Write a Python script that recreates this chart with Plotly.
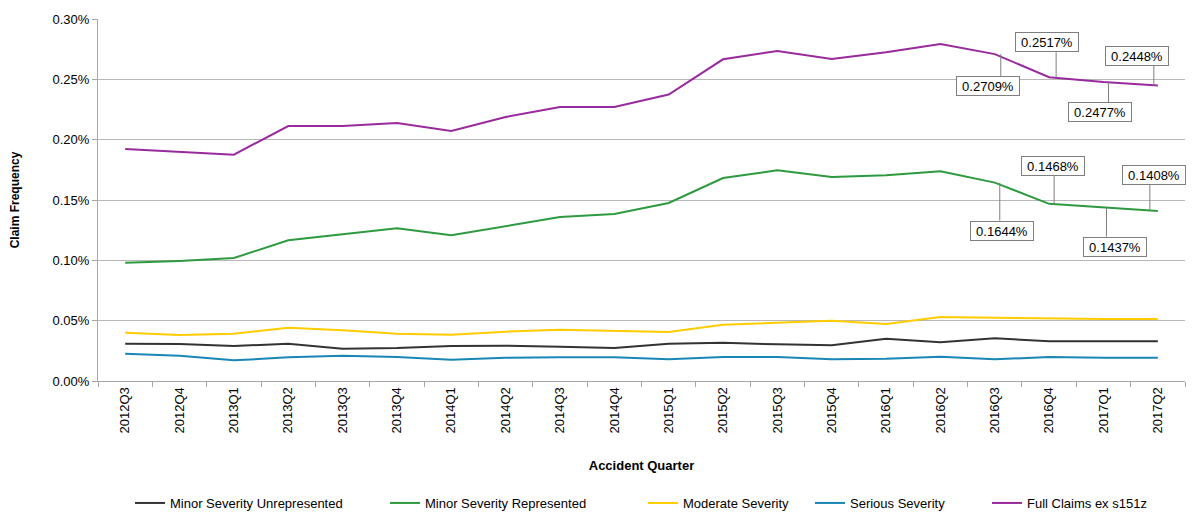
import plotly.graph_objects as go

# Accident quarters (x categories)
quarters = [
    "2012Q3", "2012Q4", "2013Q1", "2013Q2", "2013Q3", "2013Q4",
    "2014Q1", "2014Q2", "2014Q3", "2014Q4", "2015Q1", "2015Q2",
    "2015Q3", "2015Q4", "2016Q1", "2016Q2", "2016Q3", "2016Q4",
    "2017Q1", "2017Q2",
]

# Claim frequency by severity group (as fractions)
minor_unrepresented = [
    0.000309, 0.000307, 0.000290, 0.000309, 0.000268, 0.000273,
    0.000290, 0.000293, 0.000284, 0.000273, 0.000309, 0.000317,
    0.000304, 0.000296, 0.000351, 0.000321, 0.000354, 0.000329,
    0.000329, 0.000329,
]
minor_represented = [
    0.000980, 0.000995, 0.001019, 0.001166, 0.001216, 0.001265,
    0.001207, 0.001285, 0.001359, 0.001384, 0.001475, 0.001682,
    0.001746, 0.001691, 0.001705, 0.001738, 0.001644, 0.001468,
    0.001437, 0.001408,
]
moderate = [
    0.000400, 0.000381, 0.000392, 0.000442, 0.000420, 0.000392,
    0.000384, 0.000409, 0.000425, 0.000414, 0.000406, 0.000467,
    0.000486, 0.000500, 0.000472, 0.000530, 0.000525, 0.000516,
    0.000513, 0.000513,
]
serious = [
    0.000226, 0.000210, 0.000171, 0.000196, 0.000210, 0.000199,
    0.000177, 0.000193, 0.000196, 0.000196, 0.000180, 0.000199,
    0.000199, 0.000180, 0.000185, 0.000201, 0.000180, 0.000199,
    0.000193, 0.000193,
]
full_claims = [
    0.001923, 0.001898, 0.001876, 0.002113, 0.002113, 0.002138,
    0.002072, 0.002188, 0.002271, 0.002271, 0.002374, 0.002666,
    0.002735, 0.002668, 0.002724, 0.002793, 0.002709, 0.002517,
    0.002477, 0.002448,
]

series_names = [
    "Minor Severity Unrepresented",
    "Minor Severity Represented",
    "Moderate Severity",
    "Serious Severity",
    "Full Claims ex s151z",
]
series_values = [minor_unrepresented, minor_represented, moderate, serious, full_claims]
series_colors = ["#333333", "#2e9a40", "#ffcc00", "#1a86b6", "#982a9c"]

FONT = "Liberation Sans, Arial, sans-serif"

fig = go.Figure()

# one legend per series so each entry sits where it should along the bottom row
legend_text_px = [170, 425, 683, 850, 1027]
for i, (name, vals, col) in enumerate(zip(series_names, series_values, series_colors)):
    lg = "legend" if i == 0 else f"legend{i + 1}"
    fig.add_trace(go.Scatter(
        x=quarters, y=vals, name=name, mode="lines",
        line=dict(color=col, width=2),
        legend=lg, showlegend=True, hoverinfo="skip",
    ))

# data labels on the last four quarters of the two upper series
# (dx, dy) = box centre offset in px; lx = leader line x offset in px
label_style = {
    "full": [(-7, -32, 6), (-2, 35, 7), (-3, -30, 5), (-21, 30, -4)],
    "rep": [(7, -48, 5), (4, 38, 5), (12, -39, 3), (-4, 36, -8)],
}
box_half_h = 10
for key, vals in (("full", full_claims), ("rep", minor_represented)):
    for (dx, dy, lx), q, v in zip(label_style[key], quarters[-4:], vals[-4:]):
        end = dy - box_half_h if dy > 0 else dy + box_half_h
        fig.add_shape(
            type="line", xref="x", yref="y",
            xsizemode="pixel", ysizemode="pixel",
            xanchor=q, yanchor=v,
            x0=lx, x1=lx, y0=0, y1=end,
            line=dict(color="#7f7f7f", width=1),
        )
        fig.add_annotation(
            x=q, y=v, xref="x", yref="y",
            text=f"{v:.4%}", showarrow=False,
            xshift=dx, yshift=dy,
            width=62, height=18, borderpad=0,
            bgcolor="white", bordercolor="#7f7f7f", borderwidth=1,
            font=dict(family=FONT, size=13, color="#000000"),
        )

layout_legends = {}
for i, tx in enumerate(legend_text_px):
    key = "legend" if i == 0 else f"legend{i + 1}"
    layout_legends[key] = dict(
        orientation="h", xref="container", yref="container",
        x=(tx - 40) / 1192, y=1 - 503 / 529,
        xanchor="left", yanchor="middle",
        font=dict(family=FONT, size=13, color="#000000"),
        bgcolor="rgba(0,0,0,0)", borderwidth=0,
    )

fig.update_layout(
    width=1192, height=529,
    margin=dict(l=98, r=7, t=19, b=148),
    paper_bgcolor="white", plot_bgcolor="white",
    font=dict(family=FONT, size=12, color="#000000"),
    showlegend=True,
    **layout_legends,
)

fig.update_xaxes(
    type="category",
    range=[-0.5, len(quarters) - 0.5],
    tickangle=-90,
    tickson="boundaries",
    ticks="outside", ticklen=5, tickcolor="#a6a6a6",
    showline=True, linecolor="#a6a6a6", linewidth=1,
    showgrid=False,
    tickfont=dict(family=FONT, size=13, color="#000000"),
    title=dict(text="<b>Accident Quarter</b>", standoff=28,
               font=dict(family=FONT, size=13, color="#000000")),
)
fig.update_yaxes(
    range=[0, 0.003], dtick=0.0005, tickformat=".2%",
    ticks="outside", ticklen=5, tickcolor="#a6a6a6",
    showline=True, linecolor="#a6a6a6", linewidth=1,
    showgrid=True, gridcolor="#b8b8b8", gridwidth=1,
    zeroline=False,
    tickfont=dict(family=FONT, size=13, color="#000000"),
    title=dict(text="<b>Claim Frequency</b>", standoff=30,
               font=dict(family=FONT, size=12, color="#000000")),
)

fig.write_html("out.html")
